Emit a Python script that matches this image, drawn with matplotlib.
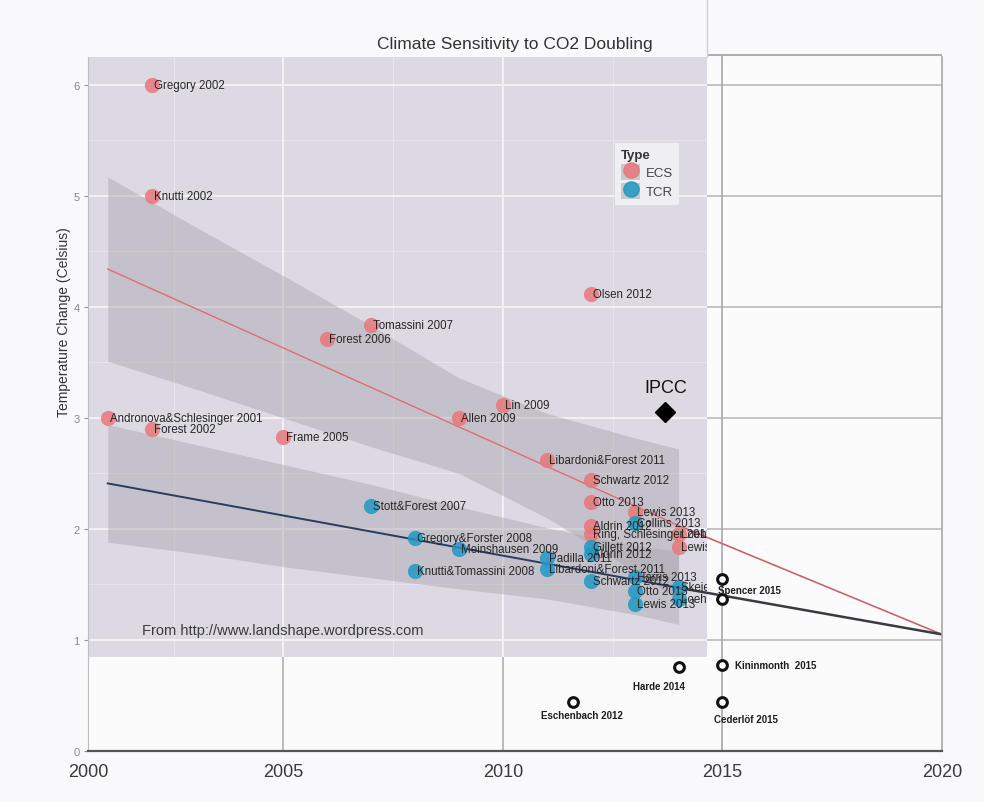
import matplotlib
matplotlib.use('Agg')
import matplotlib.pyplot as plt
from matplotlib.patches import Rectangle, Patch
from matplotlib.lines import Line2D
from matplotlib.legend_handler import HandlerTuple

plt.rcParams['font.family'] = ['Liberation Sans', 'DejaVu Sans']

# equilibrium climate sensitivity estimates
ecs_year = [2001, 2002, 2002, 2002, 2005, 2006, 2007, 2009, 2010, 2011,
            2012, 2012, 2012, 2013, 2012, 2012, 2014, 2014]
ecs_value = [3.0, 6.0, 5.0, 2.9, 2.83, 3.71, 3.84, 3.0, 3.12, 2.62,
             4.12, 2.44, 2.24, 2.15, 2.03, 1.95, 1.95, 1.84]
ecs_label = ['Andronova&Schlesinger 2001', 'Gregory 2002', 'Knutti 2002',
             'Forest 2002', 'Frame 2005', 'Forest 2006', 'Tomassini 2007',
             'Allen 2009', 'Lin 2009', 'Libardoni&Forest 2011', 'Olsen 2012',
             'Schwartz 2012', 'Otto 2013', 'Lewis 2013', 'Aldrin 2012',
             'Ring, Schlesinger 2012', 'Loehle 2014', 'Lewis 2014']

# transient climate response estimates
tcr_year = [2007, 2008, 2008, 2009, 2011, 2011, 2012, 2012, 2012, 2013,
            2013, 2013, 2013, 2014, 2014]
tcr_value = [2.21, 1.92, 1.62, 1.82, 1.74, 1.64, 1.84, 1.77, 1.53, 2.05,
             1.57, 1.44, 1.32, 1.48, 1.37]
tcr_label = ['Stott&Forest 2007', 'Gregory&Forster 2008',
             'Knutti&Tomassini 2008', 'Meinshausen 2009', 'Padilla 2011',
             'Libardoni&Forest 2011', 'Gillett 2012', 'Aldrin 2012',
             'Schwartz 2012', 'Collins 2013', 'Harris 2013', 'Otto 2013',
             'Lewis 2013', 'Skeie 2014', 'Loehle 2014']

# smoothers (lm fit + confidence ribbon)
fit_x = [2001, 2014]
ecs_fit = [4.34, 2.03]
tcr_fit = [2.41, 1.47]
band_x = [2001, 2003, 2005, 2007, 2009, 2011, 2013, 2014]
ecs_upper = [5.17, 4.72, 4.28, 3.83, 3.36, 3.04, 2.82, 2.72]
ecs_lower = [3.51, 3.26, 3.00, 2.74, 2.50, 2.10, 1.62, 1.36]
tcr_upper = [2.94, 2.76, 2.58, 2.40, 2.20, 2.01, 1.85, 1.80]
tcr_lower = [1.88, 1.78, 1.66, 1.56, 1.46, 1.37, 1.23, 1.14]

# trend lines carried on to 2020
ext_x = [2014, 2020]
ecs_ext = [2.03, 1.05]
tcr_ext = [1.47, 1.05]

# later estimates added by hand
new_year = [2015, 2015, 2015, 2014, 2011.6, 2015]
new_value = [1.55, 1.37, 0.77, 0.76, 0.44, 0.44]
new_label = ['Spencer 2015', '', 'Kininmonth  2015', 'Harde 2014',
             'Eschenbach 2012', 'Cederlöf 2015']

ipcc_year = 2013.7
ipcc_value = 3.05

ECS_COL = '#e8777b'
TCR_COL = '#1f98c2'

fig = plt.figure(figsize=(9.84, 8.03), dpi=100, facecolor='#f9f9fb')
ax = fig.add_axes([88 / 984, 1 - 752 / 803, (942 - 88) / 984, (752 - 58) / 803])
ax.set_facecolor('#fbfbfc')
x0, x1 = 2000.55, 2020
ax.set_xlim(x0, x1)
ax.set_ylim(0, 6.25)
px_right, py_bottom = 2014.65, 0.85

panel = Rectangle((x0, py_bottom), px_right - x0, 6.25 - py_bottom,
                  facecolor='#dcd9e3', edgecolor='none', zorder=0)
ax.add_patch(panel)

# panel grid
ax.hlines([1.5, 2.5, 3.5, 4.5, 5.5], x0, px_right, color='#e9e7ee', lw=0.6, zorder=0.5)
ax.vlines([2002.5, 2007.5, 2012.5], py_bottom, 6.25, color='#e9e7ee', lw=0.6, zorder=0.5)
ax.hlines([1, 2, 3, 4, 5, 6], x0, px_right, color='#f4f3f7', lw=1.3, zorder=0.5)
ax.vlines([2005, 2010], py_bottom, 6.25, color='#f4f3f7', lw=1.3, zorder=0.5)

# extension grid
ax.hlines([1, 2, 3, 4, 5, 6], px_right, x1, color='#b5b5b8', lw=1.1, zorder=0.5)
ax.hlines([6.27], px_right, x1, color='#a8a8ab', lw=1.3, zorder=0.5, clip_on=False)
ax.vlines([2015], 0, 6.27, color='#a8a8ab', lw=1.2, zorder=0.5, clip_on=False)
ax.vlines([2005, 2010], 0, py_bottom, color='#a8a8ab', lw=1.1, zorder=0.5)
ax.vlines([px_right], 6.25, 6.8, color='#d0d0d4', lw=1.0, zorder=0.5, clip_on=False)

# ribbons and fits
ax.fill_between(band_x, ecs_lower, ecs_upper, color='#a9a4ad', alpha=0.45, lw=0, zorder=1)
ax.fill_between(band_x, tcr_lower, tcr_upper, color='#a9a4ad', alpha=0.45, lw=0, zorder=1)
ax.plot(fit_x, ecs_fit, color='#e06d72', lw=1.0, zorder=2)
ax.plot(fit_x, tcr_fit, color='#2b3c5c', lw=1.4, zorder=2)
ax.plot(ext_x, ecs_ext, color='#c8646c', lw=1.2, zorder=2)
ax.plot(ext_x, tcr_ext, color='#3a3a40', lw=1.8, zorder=2)

# points
for yrs, vals, col in [(ecs_year, ecs_value, ECS_COL), (tcr_year, tcr_value, TCR_COL)]:
    sc = ax.scatter(yrs, vals, s=120, color=col, alpha=0.85, lw=0, zorder=3)
    sc.set_clip_path(panel)

for yrs, vals, labs in [(ecs_year, ecs_value, ecs_label), (tcr_year, tcr_value, tcr_label)]:
    for x, y, lab in zip(yrs, vals, labs):
        t = ax.text(x + 0.05, y, lab, ha='left', va='center', fontsize=8.3,
                    color='#262626', zorder=4, clip_on=True)
        t.set_clip_path(panel)

# hand-added estimates
ax.plot(new_year, new_value, 'o', ms=7, mfc='white', mec='#111111', mew=2.2,
        ls='none', zorder=5, clip_on=False)
offsets = [(-3, -8, 'left'), None, (9, 0, 'left'), (-14, -14, 'center'),
           (6, -9, 'center'), (17, -12, 'center')]
for x, y, lab, off in zip(new_year, new_value, new_label, offsets):
    if not lab:
        continue
    dx, dy, ha = off
    ax.annotate(lab, (x, y), xytext=(dx, dy), textcoords='offset points',
                ha=ha, va='center', fontsize=7, fontweight='bold',
                color='#1e1e1e', zorder=6)

ax.plot([ipcc_year], [ipcc_value], 'D', ms=10, color='black', zorder=5)
ax.annotate('IPCC', (ipcc_year, ipcc_value), xytext=(0, 18),
            textcoords='offset points', ha='center', va='center',
            fontsize=13, color='#111111')

ax.text(2001.78, 1.09, 'From http://www.landshape.wordpress.com', ha='left',
        va='center', fontsize=10.5, color='#3a3a3a', zorder=4)

# legend: grey key squares with the point drawn on top
leg_handles = [
    (Patch(facecolor='#cbc7cf', edgecolor='none'),
     Line2D([], [], marker='o', ls='none', ms=11, color=ECS_COL, alpha=0.85)),
    (Patch(facecolor='#cbc7cf', edgecolor='none'),
     Line2D([], [], marker='o', ls='none', ms=11, color=TCR_COL, alpha=0.85)),
]
leg = ax.legend(leg_handles, ['ECS', 'TCR'], title='Type',
                handler_map={tuple: HandlerTuple(ndivide=1, pad=0)},
                loc='upper left', bbox_to_anchor=(0.609, 0.885),
                fontsize=9.5, title_fontsize=9.5, handlelength=1.5,
                handleheight=1.5, handletextpad=0.4, labelspacing=0.2,
                borderpad=0.45, frameon=True, fancybox=False,
                facecolor='#efeef3', edgecolor='none', framealpha=1)
leg.get_title().set_fontweight('bold')
leg.get_title().set_color('#333333')
leg._legend_box.align = 'left'
for txt in leg.get_texts():
    txt.set_color('#444444')

# axes
ax.set_xticks([x0, 2005, 2010, 2015, 2020], ['2000', '2005', '2010', '2015', '2020'])
ax.set_yticks([0, 1, 2, 3, 4, 5, 6])
ax.tick_params(axis='x', length=0, pad=9, labelsize=13, labelcolor='#3a3a3a')
ax.tick_params(axis='y', length=3, width=0.8, color='#999999', pad=3,
               labelsize=8, labelcolor='#888888')
ax.set_ylabel('Temperature Change (Celsius)', fontsize=10, color='#333333')
ax.yaxis.set_label_coords(-0.02, 0.62)
ax.spines['top'].set_visible(False)
ax.spines['left'].set_color('#bdbdc2')
ax.spines['left'].set_linewidth(0.8)
ax.spines['bottom'].set_color('#555555')
ax.spines['bottom'].set_linewidth(1.6)
ax.spines['right'].set_color('#a8a8ab')
ax.spines['right'].set_linewidth(1.2)

fig.text(515 / 984, 1 - 45 / 803, 'Climate Sensitivity to CO2 Doubling',
         ha='center', va='center', fontsize=12.5, color='#333333')

fig.savefig('out.png', dpi=100, facecolor=fig.get_facecolor())
